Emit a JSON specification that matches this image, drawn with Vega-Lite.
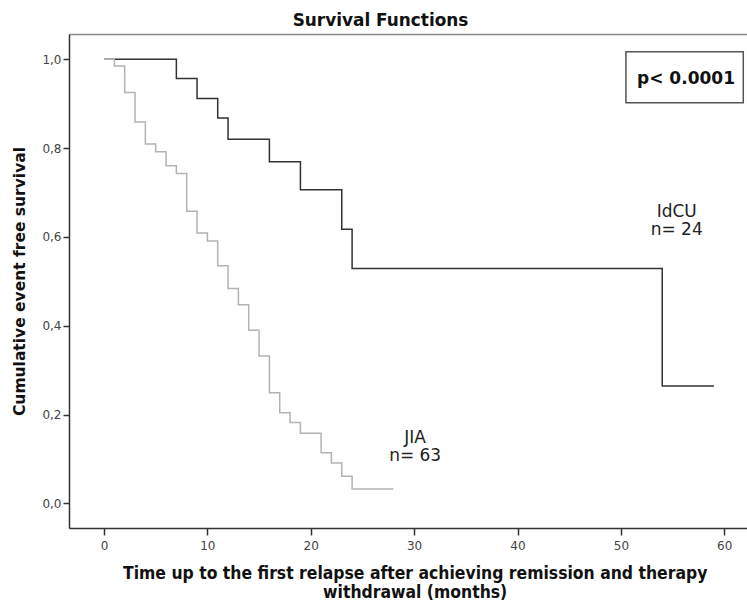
{
  "$schema": "https://vega.github.io/schema/vega-lite/v6.json",
  "autosize": {"type": "none"},
  "padding": {"left": 69, "top": 34, "right": 0, "bottom": 73},
  "width": 678,
  "height": 494,
  "background": "white",
  "title": {
    "text": "Survival Functions",
    "font": "DejaVu Sans",
    "fontSize": 16.9,
    "fontWeight": "bold",
    "color": "#111",
    "anchor": "middle",
    "dx": -27.5,
    "dy": 15.5,
    "baseline": "alphabetic",
    "offset": 6.5
  },
  "datasets": {
    "curves": [
      {"group": "IdCU", "t": 0, "s": 1.0},
      {"group": "IdCU", "t": 7, "s": 0.957},
      {"group": "IdCU", "t": 9, "s": 0.912},
      {"group": "IdCU", "t": 11, "s": 0.868},
      {"group": "IdCU", "t": 12, "s": 0.82},
      {"group": "IdCU", "t": 16, "s": 0.769},
      {"group": "IdCU", "t": 19, "s": 0.706},
      {"group": "IdCU", "t": 23, "s": 0.617},
      {"group": "IdCU", "t": 24, "s": 0.529},
      {"group": "IdCU", "t": 54, "s": 0.264},
      {"group": "IdCU", "t": 59, "s": 0.264},
      {"group": "JIA", "t": 0, "s": 1.0},
      {"group": "JIA", "t": 1, "s": 0.985},
      {"group": "JIA", "t": 2, "s": 0.925},
      {"group": "JIA", "t": 3, "s": 0.859},
      {"group": "JIA", "t": 4, "s": 0.809},
      {"group": "JIA", "t": 5, "s": 0.792},
      {"group": "JIA", "t": 6, "s": 0.76},
      {"group": "JIA", "t": 7, "s": 0.743},
      {"group": "JIA", "t": 8, "s": 0.658},
      {"group": "JIA", "t": 9, "s": 0.609},
      {"group": "JIA", "t": 10, "s": 0.591},
      {"group": "JIA", "t": 11, "s": 0.535},
      {"group": "JIA", "t": 12, "s": 0.484},
      {"group": "JIA", "t": 13, "s": 0.447},
      {"group": "JIA", "t": 14, "s": 0.39},
      {"group": "JIA", "t": 15, "s": 0.332},
      {"group": "JIA", "t": 16, "s": 0.249},
      {"group": "JIA", "t": 17, "s": 0.204},
      {"group": "JIA", "t": 18, "s": 0.182},
      {"group": "JIA", "t": 19, "s": 0.158},
      {"group": "JIA", "t": 21, "s": 0.114},
      {"group": "JIA", "t": 22, "s": 0.091},
      {"group": "JIA", "t": 23, "s": 0.061},
      {"group": "JIA", "t": 24, "s": 0.032},
      {"group": "JIA", "t": 28, "s": 0.032}
    ],
    "labels": [
      {"label": ["IdCU", "n= 24"], "t": 55.4, "s": 0.656},
      {"label": ["JIA", "n= 63"], "t": 30.1, "s": 0.147}
    ],
    "pbox": [
      {"label": "p< 0.0001", "x1": 50.49, "x2": 61.84, "y1": 1.017, "y2": 0.902, "tx": 56.3, "ty": 0.955}
    ]
  },
  "resolve": {"axis": {"x": "independent", "y": "independent"}},
  "layer": [
    {
      "data": {"name": "curves"},
      "mark": {"type": "line", "interpolate": "step-after", "strokeWidth": 1.5},
      "encoding": {
        "x": {
          "field": "t", "type": "quantitative",
          "scale": {"domain": [-3.386, 62.2], "nice": false, "zero": false},
          "axis": {
            "orient": "bottom",
            "values": [0, 10, 20, 30, 40, 50, 60],
            "grid": false,
            "domainColor": "#333", "domainWidth": 1.5,
            "tickColor": "#333", "tickWidth": 1.5, "tickSize": 7,
            "labelFont": "DejaVu Sans", "labelFontSize": 12, "labelColor": "#444", "labelPadding": 5,
            "title": ["Time up to the first relapse after achieving remission and therapy", "withdrawal (months)"],
            "titleFont": "DejaVu Sans Condensed", "titleFontSize": 17.4, "titleFontWeight": "bold", "titleColor": "#111",
            "titleX": 345.7, "titleY": 50, "titleAlign": "center", "titleBaseline": "alphabetic", "titleAnchor": "start", "titleLineHeight": 19.5
          }
        },
        "y": {
          "field": "s", "type": "quantitative",
          "scale": {"domain": [-0.0556, 1.057], "nice": false, "zero": false},
          "axis": {
            "orient": "left",
            "values": [0, 0.2, 0.4, 0.6, 0.8, 1.0],
            "grid": false,
            "labelExpr": "replace(format(datum.value, '.1f'), '.', ',')",
            "domainColor": "#333", "domainWidth": 1.5,
            "tickColor": "#333", "tickWidth": 1.5, "tickSize": 6,
            "labelFont": "DejaVu Sans", "labelFontSize": 12, "labelColor": "#444", "labelPadding": 2,
            "title": "Cumulative event free survival",
            "titleFont": "DejaVu Sans", "titleFontSize": 15.5, "titleFontWeight": "bold", "titleColor": "#111",
            "titleAngle": -90, "titleX": -45, "titleY": 247, "titleAlign": "center", "titleBaseline": "alphabetic", "titleAnchor": "start"
          }
        },
        "color": {
          "field": "group", "type": "nominal",
          "scale": {"domain": ["IdCU", "JIA"], "range": ["#333333", "#b3b3b3"]},
          "legend": null
        }
      }
    },
    {
      "data": {"name": "pbox"},
      "mark": {"type": "rect", "fill": "white", "stroke": "#555", "strokeWidth": 1.5},
      "encoding": {
        "x": {
          "field": "x1", "type": "quantitative",
          "axis": {"orient": "top", "labels": false, "ticks": false, "title": null, "grid": false, "domainColor": "#8a8a8a", "domainWidth": 1.5}
        },
        "x2": {"field": "x2"},
        "y": {"field": "y1", "type": "quantitative", "axis": null},
        "y2": {"field": "y2"}
      }
    },
    {
      "data": {"name": "pbox"},
      "mark": {"type": "text", "font": "DejaVu Sans", "fontSize": 17, "fontWeight": "bold", "color": "#111", "align": "center", "baseline": "middle"},
      "encoding": {
        "x": {"field": "tx", "type": "quantitative", "axis": null},
        "y": {"field": "ty", "type": "quantitative", "axis": null},
        "text": {"field": "label"}
      }
    },
    {
      "data": {"name": "labels"},
      "mark": {"type": "text", "font": "DejaVu Sans", "fontSize": 17, "lineHeight": 18, "color": "#222", "align": "center", "baseline": "middle"},
      "encoding": {
        "x": {"field": "t", "type": "quantitative", "axis": null},
        "y": {"field": "s", "type": "quantitative", "axis": null},
        "text": {"field": "label"}
      }
    }
  ],
  "config": {
    "view": {"stroke": null}
  }
}
